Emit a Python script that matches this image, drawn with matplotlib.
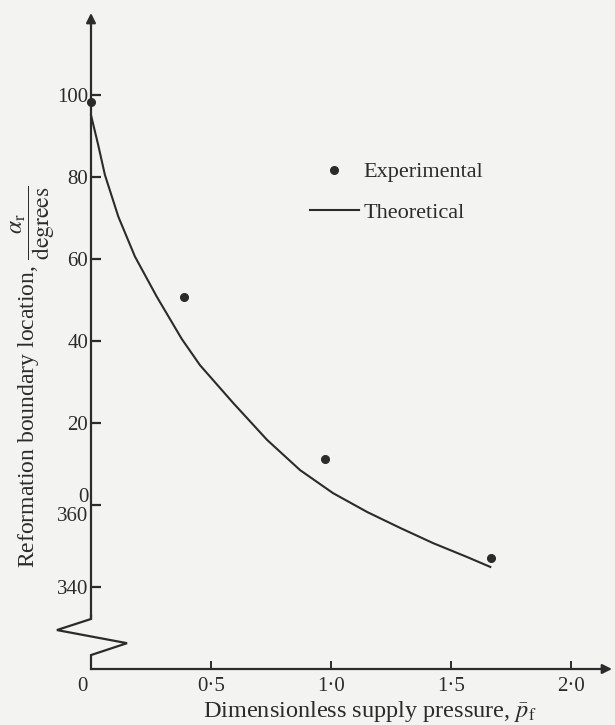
import numpy as np
import matplotlib
matplotlib.use('Agg')
import matplotlib.pyplot as plt
import matplotlib.transforms as mtransforms
from matplotlib.lines import Line2D

plt.rcParams['font.family'] = ['Liberation Serif', 'DejaVu Serif']
plt.rcParams['mathtext.fontset'] = 'stix'

# experimental points (angle in degrees, 3xx = below zero)
exp_p = [0.0, 0.388, 0.975, 1.667]
exp_a = [98.3, 50.7, 11.2, 347.1]

# theoretical curve
th_p = [0.0, 0.03, 0.058, 0.114, 0.183, 0.274, 0.378, 0.454, 0.592, 0.733,
        0.871, 1.008, 1.15, 1.288, 1.425, 1.567, 1.663]
th_a = [95.1, 87.8, 80.5, 70.3, 60.6, 50.8, 40.5, 34.1, 24.9, 15.9,
        8.5, 2.9, 358.3, 354.4, 350.7, 347.3, 344.9]

yticks = [100, 80, 60, 40, 20, 0, -20]
ytick_labels = ['100', '80', '60', '40', '20', '0\n360', '340']
xticks = [0.0, 0.5, 1.0, 1.5, 2.0]
xtick_labels = ['0', '0\u00b75', '1\u00b70', '1\u00b75', '2\u00b70']


def unwrap(a):
    a = np.asarray(a, dtype=float)
    return np.where(a > 180, a - 360, a)


ink = '#2b2b2b'
bg = '#f3f3f1'

fig = plt.figure(figsize=(6.15, 7.25), dpi=100, facecolor=bg)
ax = fig.add_axes([91 / 615, 56 / 725, 521 / 615, 656 / 725])
ax.set_facecolor(bg)
ax.set_xlim(0, 2.17)
ax.set_ylim(-40, 120)
for s in ax.spines.values():
    s.set_visible(False)

# axes drawn by hand (arrows + break on the y axis)
ax.annotate('', xy=(2.17, -40), xytext=(0, -40),
            arrowprops=dict(arrowstyle='-|>', color=ink, lw=1.6,
                            mutation_scale=14, shrinkA=0, shrinkB=0),
            annotation_clip=False)
ax.annotate('', xy=(0, 120), xytext=(0, -27.8),
            arrowprops=dict(arrowstyle='-|>', color=ink, lw=1.6,
                            mutation_scale=14, shrinkA=0, shrinkB=0),
            annotation_clip=False)
brk_x = [0, 0, 0.15, -0.142, 0, 0]
brk_y = [-40, -36.6, -33.7, -30.5, -27.8, -27.0]
ax.plot(brk_x, brk_y, color=ink, lw=1.6, clip_on=False,
        solid_joinstyle='miter')

ax.set_yticks(yticks)
ax.set_yticklabels(ytick_labels, ha='right', multialignment='right')
ax.set_xticks(xticks)
ax.set_xticklabels(xtick_labels)
ax.tick_params(axis='y', direction='in', length=7, width=1.6, color=ink,
               labelsize=15, labelcolor=ink, pad=2)
ax.tick_params(axis='x', direction='in', length=6, width=1.4, color=ink,
               labelsize=15, labelcolor=ink, pad=6)
for lab in ax.get_yticklabels():
    lab.set_linespacing(0.95)
# the "0" under the origin sits a little to the left of the axis
lab0 = ax.get_xticklabels()[0]
lab0.set_transform(lab0.get_transform() +
                   mtransforms.ScaledTranslation(-0.09, 0, fig.dpi_scale_trans))

ax.plot(th_p, unwrap(th_a), color=ink, lw=1.5, clip_on=False)
ax.plot(exp_p, unwrap(exp_a), 'o', color=ink, ms=5.5, clip_on=False)

handles = [Line2D([], [], marker='o', ls='none', color=ink, ms=5.5),
           Line2D([], [], color=ink, lw=1.5)]
ax.legend(handles, ['Experimental', 'Theoretical'], loc='upper left',
          bbox_to_anchor=(0.42, 0.773), frameon=False, fontsize=16,
          handlelength=2.2, handletextpad=0.2, labelspacing=0.9,
          borderpad=0, borderaxespad=0, labelcolor=ink)

fig.text(370 / 615, 1 - 712 / 725,
         r'Dimensionless supply pressure, $\bar{p}_{\mathrm{f}}$',
         ha='center', va='center', fontsize=17.5, color=ink)
fig.text(33 / 615, 1 - 377 / 725,
         r'Reformation boundary location, $\dfrac{\alpha_{\mathrm{r}}}{\mathrm{degrees}}$',
         ha='center', va='center', rotation=90, fontsize=17, color=ink)

fig.savefig('out.png', dpi=100, facecolor=bg)
